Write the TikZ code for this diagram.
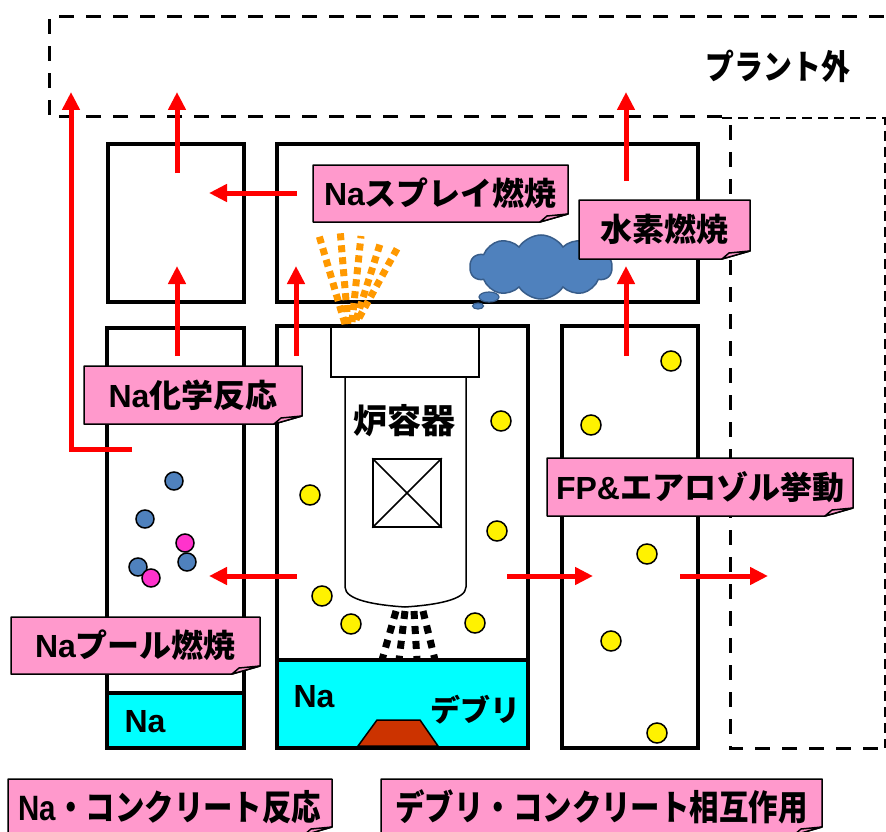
\documentclass[tikz,border=0pt]{standalone}
\usepackage{fontspec}
\setmainfont{Noto Sans CJK JP}
\newfontfamily\latinfont{Liberation Sans}
\usetikzlibrary{arrows.meta,shapes.symbols,shapes.geometric}

\definecolor{labelpink}{RGB}{255,153,204}
\definecolor{nacyan}{RGB}{0,255,255}
\definecolor{sprayorange}{RGB}{255,153,0}
\definecolor{cloudblue}{RGB}{79,129,189}
\definecolor{cloudedge}{RGB}{56,93,138}
\definecolor{debrisred}{RGB}{204,51,0}
\definecolor{dropmagenta}{RGB}{255,51,204}
\definecolor{arrowred}{RGB}{255,0,0}

\newcommand{\Na}{{\latinfont\bfseries Na}}

\tikzset{
  room/.style={draw=black, line width=3.5pt},
  pool/.style={fill=nacyan, draw=black, line width=3.5pt},
  thinline/.style={draw=black, line width=1.5pt},
  zone/.style={draw=black, line width=3pt, dash pattern=on 15pt off 12pt},
  zonethin/.style={draw=black, line width=1.3pt, dash pattern=on 10pt off 6pt},
  flow/.style={draw=arrowred, line width=5pt, -{Triangle[width=17pt,length=18pt]}},
  labelbox/.style={fill=labelpink, draw=black, line width=1.5pt, line join=round},
  labeltext/.style={font=\fontsize{32}{32}\selectfont\bfseries, inner sep=0pt},
  plaintext/.style={font=\fontsize{32}{32}\selectfont\bfseries, inner sep=0pt},
  ydot/.style={circle, fill=yellow, draw=black, line width=1.5pt, minimum size=20pt, inner sep=0pt},
  bdot/.style={circle, fill=cloudblue, draw=black, line width=1.5pt, minimum size=18pt, inner sep=0pt},
  mdot/.style={circle, fill=dropmagenta, draw=black, line width=1.5pt, minimum size=18pt, inner sep=0pt},
  spray/.style={draw=sprayorange, line width=7pt, dash pattern=on 7pt off 5pt},
  jet/.style={draw=black, line width=7pt, dash pattern=on 8pt off 7pt},
  puff/.style={ellipse, fill=cloudblue, draw=cloudedge, line width=1.2pt, inner sep=0pt},
}

% pink callout with a folded lower-right corner: name, x1, y1, x2, y2, text
\newcommand{\pinklabel}[6]{%
  \path[labelbox] (#2,#3) -- (#4,#3) -- (#4,#5-8) -- (#4-28,#5) -- (#2,#5) -- cycle;
  \path[labelbox] (#4-28,#5) -- (#4-21,#5-6) -- (#4,#5-8) -- cycle;
  \node[labeltext] (#1) at ({(#2+#4)/2},{(#3+#5)/2}) {#6};
}

\begin{document}
\begin{tikzpicture}[x=1pt,y=-1pt]
\clip (0,0) rectangle (886,832);
\fill[white] (0,0) rectangle (886,832);

% plant boundary and outside region
\draw[zone] (722,117) -- (49,117) -- (49,17) -- (900,17);
\draw[zonethin] (722,118) -- (885,118) -- (885,748);
\draw[zone] (730,125) -- (730,748) -- (886,748);
\node[plaintext, xscale=0.85, font=\fontsize{34}{34}\selectfont\bfseries] (outside) at (778,66) {プラント外};

% cells
\draw[room] (108,144) rectangle (244,302);
\draw[room] (277,144) rectangle (698,302);
\draw[room] (107,328) rectangle (244,748);
\draw[room] (277,326) rectangle (528,748);
\draw[room] (562,326) rectangle (698,748);

% sodium pools
\draw[pool] (107,693) rectangle (244,748);
\draw[pool] (277,660) rectangle (528,748);
\node[plaintext] (naleft) at (145,722) {\Na};
\node[plaintext] (nacenter) at (314,697) {\Na};
\node[plaintext, font=\fontsize{30}{30}\selectfont\bfseries] (debristext) at (475,710) {デブリ};
\filldraw[fill=debrisred, draw=black, line width=1.5pt] (358,746) -- (377,720) -- (420,720) -- (438,746) -- cycle;

% reactor vessel
\draw[thinline] (331,326) rectangle (479,377);
\draw[thinline] (345,377) -- (345,587) .. controls (345,600) and (375,605) .. (405,607)
  .. controls (435,605) and (466,600) .. (466,587) -- (466,377);
\node[draw=black, line width=1.5pt, minimum size=68pt, inner sep=0pt] (core) at (407,493) {};
\draw[thinline] (core.north west) -- (core.south east);
\draw[thinline] (core.north east) -- (core.south west);
\node[plaintext, font=\fontsize{34}{34}\selectfont\bfseries] (vessel) at (404,421) {炉容器};

% molten material falling from the vessel
\draw[jet] (396,611) -- (382,660);
\draw[jet] (405,611) -- (399,660);
\draw[jet] (414,611) -- (417,660);
\draw[jet] (423,611) -- (435,660);

% sodium spray
\draw[spray] (345,324) -- (318,232);
\draw[spray] (348,324) -- (340,229);
\draw[spray] (352,322) -- (361,236);
\draw[spray] (356,320) -- (381,241);
\draw[spray] (359,318) -- (398,247);

% hydrogen cloud
\node[cloud, cloud puffs=10, cloud puff arc=115, aspect=2.2, minimum width=142pt, minimum height=64pt,
      fill=cloudblue, draw=cloudedge, line width=1.5pt, inner sep=0pt] (h2cloud) at (541,267) {};
\node[puff, minimum width=20pt, minimum height=10pt] (bubbleA) at (489,297) {};
\node[puff, minimum width=11pt, minimum height=6pt] (bubbleB) at (478,306) {};

% aerosol particles
\node[ydot] (p1) at (501,421) {};
\node[ydot] (p2) at (310,495) {};
\node[ydot] (p3) at (497,531) {};
\node[ydot] (p4) at (322,596) {};
\node[ydot] (p5) at (351,624) {};
\node[ydot] (p6) at (475,623) {};
\node[ydot] (p7) at (671,361) {};
\node[ydot] (p8) at (591,425) {};
\node[ydot] (p9) at (647,554) {};
\node[ydot] (p10) at (611,641) {};
\node[ydot] (p11) at (657,733) {};

% reaction products
\node[bdot] (b1) at (174,481) {};
\node[bdot] (b2) at (145,519) {};
\node[bdot] (b3) at (187,562) {};
\node[bdot] (b4) at (138,567) {};
\node[mdot] (m1) at (185,543) {};
\node[mdot] (m2) at (151,578) {};

% transport paths
\coordinate (chemstart) at (132,449);
\coordinate (chembend) at (71,449);
\coordinate (chemtop) at (71,92);
\draw[flow] (chemstart) -- (chembend) -- (chemtop);
\coordinate (ulstart) at (177,173);   \coordinate (ulend) at (177,92);
\coordinate (llstart) at (177,356);   \coordinate (llend) at (177,266);
\coordinate (umstart) at (297,193);   \coordinate (umend) at (209,193);
\coordinate (cstart) at (296,356);    \coordinate (cend) at (296,266);
\coordinate (urstart) at (626,181);   \coordinate (urend) at (626,92);
\coordinate (rstart) at (626,356);    \coordinate (rend) at (626,266);
\coordinate (leftstart) at (297,576); \coordinate (leftend) at (209,576);
\coordinate (midstart) at (507,576);  \coordinate (midend) at (593,576);
\coordinate (outstart) at (680,576);  \coordinate (outend) at (768,576);
\draw[flow] (ulstart) -- (ulend);
\draw[flow] (llstart) -- (llend);
\draw[flow] (umstart) -- (umend);
\draw[flow] (cstart) -- (cend);
\draw[flow] (urstart) -- (urend);
\draw[flow] (rstart) -- (rend);
\draw[flow] (leftstart) -- (leftend);
\draw[flow] (midstart) -- (midend);
\draw[flow] (outstart) -- (outend);

% phenomenon labels
\pinklabel{spraylabel}{313}{165}{568}{222}{\Na スプレイ燃焼}
\pinklabel{h2label}{579}{200}{750}{259}{水素燃焼}
\pinklabel{chemlabel}{84}{366}{302}{424}{\Na 化学反応}
\pinklabel{poollabel}{11}{617}{260}{674}{\Na プール燃焼}
\pinklabel{aerolabel}{547}{458}{853}{516}{{\latinfont\bfseries FP\&}エアロゾル挙動}
\pinklabel{concretelabel}{8}{779}{332}{835}{\scalebox{0.92}[1.1]{\Na ・コンクリート反応}}
\pinklabel{mcclilabel}{381}{779}{822}{835}{\scalebox{0.92}[1.1]{デブリ・コンクリート相互作用}}
\end{tikzpicture}
\end{document}
